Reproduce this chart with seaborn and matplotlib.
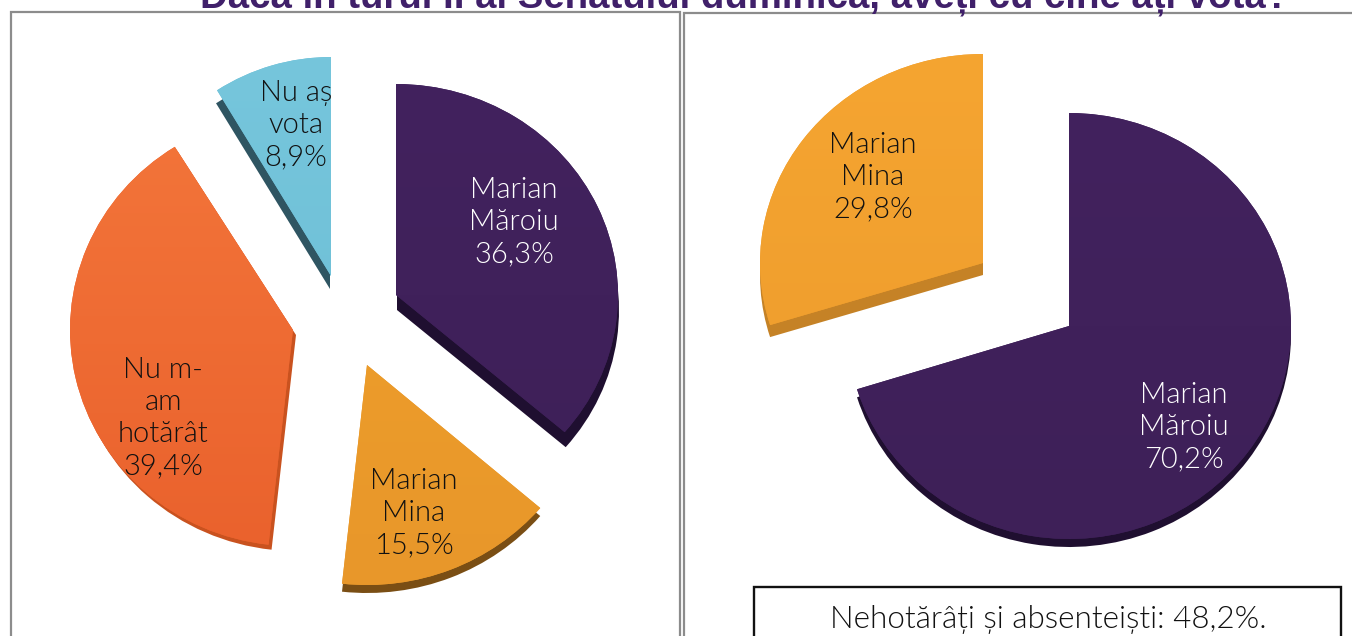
import matplotlib
matplotlib.use("Agg")
import matplotlib.pyplot as plt
import seaborn as sns
import numpy as np
from matplotlib.colors import LinearSegmentedColormap
from matplotlib.patches import Rectangle
from matplotlib.transforms import Affine2D

# ---- data ----
title_text = "Dacă în turul II al Senatului duminică, aveți cu cine ați vota?"
left_labels = ["Marian\nMăroiu", "Marian\nMina", "Nu m-\nam\nhotărât", "Nu aș\nvota"]
left_values = [36.3, 15.5, 39.4, 8.9]
right_labels = ["Marian\nMăroiu", "Marian\nMina"]
right_values = [70.2, 29.8]
note_text = "Nehotărâți și absenteiști: 48,2%."

W, H = 1352, 636
sns.set_theme(style="white")
plt.rcParams["font.family"] = ["Lato", "DejaVu Sans"]

PURPLE = ("#42225E", "#3E2058", "#1F0F30")
YELLOW = ("#F0A02C", "#E8972A", "#7A4E14")
ORANGE = ("#F3753A", "#EA622D", "#C9521F")
BLUE = ("#76C6DC", "#6CBDD5", "#2F5562")
YELLOW2 = ("#F5A531", "#EE9C2D", "#C58226")

fig = plt.figure(figsize=(W / 100, H / 100), dpi=100, facecolor="white")
ax = fig.add_axes([0, 0, 1, 1])


def fy(y):
    return H - y


def draw_pie(values, labels, styles, centers, radii, depths, text_pos):
    side, _ = ax.pie(values, startangle=90, counterclock=False, normalize=True,
                     colors=[s[2] for s in styles])
    top, _ = ax.pie(values, startangle=90, counterclock=False, normalize=True,
                    colors=[s[1] for s in styles])
    fmt = [f"{v:.1f}".replace(".", ",") + "%" for v in values]
    for i in range(len(values)):
        cx, cy = centers[i][0], fy(centers[i][1])
        rx, ry = radii[i]
        dx, dy = depths[i]
        for w, ox, oy in ((side[i], dx, -dy), (top[i], 0, 0)):
            w.set_center((cx + ox, cy + oy))
            w.set_radius(rx)
            w.set_linewidth(0)
            w.set_transform(Affine2D().translate(-cx - ox, -cy - oy).scale(1, ry / rx)
                            .translate(cx + ox, cy + oy) + ax.transData)
        cmap = LinearSegmentedColormap.from_list("g", [styles[i][0], styles[i][1]])
        grad = np.linspace(0, 1, 64).reshape(-1, 1)
        im = ax.imshow(grad, cmap=cmap, aspect="auto", zorder=2.5, origin="upper",
                       extent=(cx - rx - 5, cx + rx + 5, cy - ry - 5, cy + ry + 5))
        im.set_clip_path(top[i])
        tx, ty = text_pos[i]
        colour = "white" if styles[i] is PURPLE else "#111111"
        t = ax.text(tx, fy(ty), labels[i] + "\n" + fmt[i], ha="center", va="center",
                    fontsize=21, fontweight=320, color=colour, linespacing=1.29, zorder=4)
        t.set_clip_path(top[i])
        side[i].set_zorder(2)
        top[i].set_zorder(2.4)


# left pie
draw_pie(left_values, left_labels, [PURPLE, YELLOW, ORANGE, BLUE],
         centers=[(396, 295), (367, 365), (293, 330), (331, 276)],
         radii=[(222, 211), (228, 220), (223, 216), (215, 219)],
         depths=[(1, 15), (0, 8), (3, 5), (-1, 13)],
         text_pos=[(514, 222), (414, 513), (163, 418), (296, 125)])
# right pie
draw_pie(right_values, right_labels, [PURPLE, YELLOW2],
         centers=[(1069, 326), (983, 263)],
         radii=[(222, 213), (223, 209)],
         depths=[(0, 8), (0, 12)],
         text_pos=[(1184, 427), (873, 177)])

ax.set_aspect("auto")
ax.set_xlim(0, W)
ax.set_ylim(0, H)
ax.set_axis_off()

# panels
for x0, x1, y0 in ((10.5, 679.5, 11.5), (684, W + 20, 13)):
    ax.add_patch(Rectangle((x0, -20), x1 - x0, fy(y0) + 20, fill=False,
                           edgecolor="#8c8c8c", linewidth=1.6, zorder=1))
# note box
ax.add_patch(Rectangle((754, -20), 587, fy(586.5) + 20, facecolor="white",
                       edgecolor="#111111", linewidth=1.7, zorder=5))
ax.text(1048, fy(628), note_text, ha="center", va="baseline", fontsize=22.6,
        fontweight=320, color="#111111", zorder=6)
# title, cut by the top edge of the picture
ax.text(745, fy(8), title_text, ha="center", va="baseline", fontsize=27.6,
        fontweight="bold", family=["Liberation Sans"], color="#40206A", zorder=6)

fig.savefig("out.png", dpi=100, facecolor="white")
